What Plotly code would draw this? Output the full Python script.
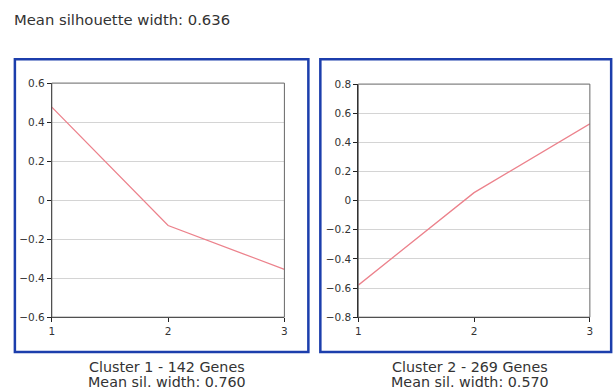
import plotly.graph_objects as go

x_vals = [1, 2, 3]
cluster1 = [0.477, -0.13, -0.355]
cluster2 = [-0.58, 0.055, 0.527]
caption_lines = [["Cluster 1 - 142 Genes", "Mean sil. width: 0.760"],
                 ["Cluster 2 - 269 Genes", "Mean sil. width: 0.570"]]
title_text = "Mean silhouette width: 0.636"

W, H = 616, 390
FONT = "DejaVu Sans, Verdana, sans-serif"
LINE = "rgb(236,130,140)"
BLUE = "rgb(28,62,172)"

# pixel -> paper helpers (with small empirical correction for the renderer)
def px(v): return ((v - 2.1) / 0.992) / W
def py(v): return 1 - ((v - 5.6) / 0.973) / H

fig = go.Figure()
fig.add_trace(go.Scatter(x=x_vals, y=cluster1, mode="lines", line=dict(color=LINE, width=1.3),
                         xaxis="x", yaxis="y", showlegend=False, hoverinfo="skip"))
fig.add_trace(go.Scatter(x=x_vals, y=cluster2, mode="lines", line=dict(color=LINE, width=1.3),
                         xaxis="x2", yaxis="y2", showlegend=False, hoverinfo="skip"))

common_x = dict(range=[1, 3], tickvals=[1, 2, 3], ticks="outside", ticklen=4, tickcolor="#222",
                showline=True, linecolor="#222", linewidth=1, showgrid=False, zeroline=False,
                tickfont=dict(family=FONT, size=10.5, color="#333"), fixedrange=True)
common_y = dict(ticks="outside", ticklen=4, tickcolor="#222", dtick=0.2,
                showline=True, linecolor="#222", linewidth=1, showgrid=True, gridcolor="#d4d4d4",
                gridwidth=1, zeroline=False, tickfont=dict(family=FONT, size=10.5, color="#333"),
                fixedrange=True)

fig.update_layout(
    width=W, height=H, margin=dict(l=0, r=0, t=0, b=0),
    paper_bgcolor="white", plot_bgcolor="white",
    xaxis=dict(domain=[px(51), px(284)], anchor="y", **common_x),
    yaxis=dict(domain=[py(318), py(83)], anchor="x", range=[-0.6, 0.6], **common_y),
    xaxis2=dict(domain=[px(358), min(px(590), 1)], anchor="y2", **common_x),
    yaxis2=dict(domain=[py(318), py(84)], anchor="x2", range=[-0.8, 0.8], **common_y),
)

shapes = []
for x0, x1 in [(14, 308), (320, 613)]:
    shapes.append(dict(type="rect", xref="paper", yref="paper", x0=px(x0), x1=min(px(x1), 0.997),
                       y0=py(353), y1=py(59), line=dict(color=BLUE, width=2.5)))
for xr, yr in [("x", "y"), ("x2", "y2")]:
    shapes.append(dict(type="rect", xref=f"{xr} domain", yref=f"{yr} domain", x0=0, x1=1, y0=0, y1=1,
                       line=dict(color="#666", width=1), layer="above"))
fig.update_layout(shapes=shapes)

annotations = [dict(text=title_text, x=px(11), y=py(19.5), xref="paper", yref="paper",
                    xanchor="left", yanchor="middle", showarrow=False,
                    font=dict(family=FONT, size=14.8, color="#333"))]
for cx, lines in zip([166.5, 470], caption_lines):
    for ly, txt in zip([368.5, 383.5], lines):
        annotations.append(dict(text=txt, x=px(cx), y=py(ly), xref="paper", yref="paper",
                                xanchor="center", yanchor="middle", showarrow=False,
                                font=dict(family=FONT, size=14.3, color="#333")))
fig.update_layout(annotations=annotations)

fig.write_html("out.html", config={"displayModeBar": False},
               post_script="document.body.style.margin='0';document.body.style.overflow='hidden';")
